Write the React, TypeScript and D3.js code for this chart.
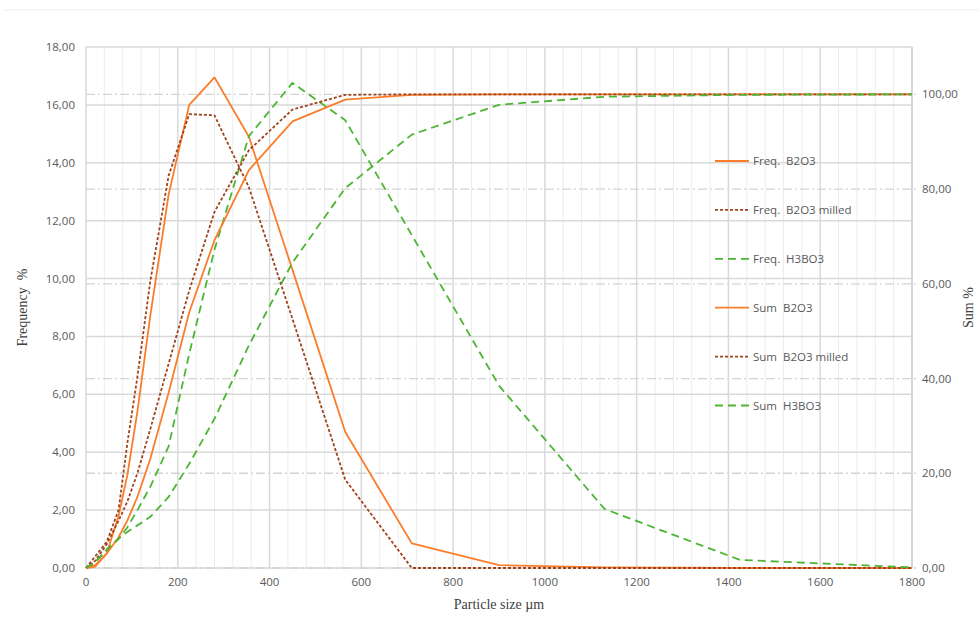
import React from "react";
import * as d3 from "d3";

// particle sizes (µm) of the measured fractions
const sizes = [0, 20, 45, 71, 90, 112, 140, 180, 225, 280, 355, 450, 565, 710, 900, 1130, 1425, 1800];

// frequency, %
const freqB2O3 = [0, 0.05, 0.5, 1.8, 3.2, 5.4, 8.7, 12.9, 16.0, 16.95, 14.9, 10.3, 4.7, 0.85, 0.1, 0.02, 0, 0];
const freqB2O3Milled = [0, 0.4, 0.9, 2.0, 4.3, 6.6, 9.9, 13.55, 15.68, 15.64, 13.15, 8.6, 3.05, 0, 0, 0, 0, 0];
const freqH3BO3 = [0, 0.2, 0.6, 1.0, 1.4, 2.0, 2.8, 4.2, 7.4, 11.0, 14.92, 16.76, 15.47, 11.5, 6.3, 2.04, 0.28, 0.02];

// cumulative sum, %
const sumB2O3 = [0, 0.6, 3.0, 6.5, 10, 15, 23, 37, 54, 69.2, 84.0, 94.3, 98.9, 99.9, 100, 100, 100, 100];
const sumB2O3Milled = [0, 1.5, 5, 10, 14, 20, 29.3, 43.1, 58.6, 75.2, 88.2, 96.8, 99.9, 100, 100, 100, 100, 100];
const sumH3BO3 = [0, 1.2, 3.9, 6.2, 7.6, 9.0, 10.8, 15, 22, 31.5, 47, 64.5, 80.2, 91.5, 97.8, 99.5, 99.9, 100];

const xTicks = [0, 200, 400, 600, 800, 1000, 1200, 1400, 1600, 1800];
const leftTicks = [0, 2, 4, 6, 8, 10, 12, 14, 16, 18];
const rightTicks = [0, 20, 40, 60, 80, 100];

const ORANGE = "#fa7d2c";
const BROWN = "#a0431d";
const GREEN = "#4db534";

const W = 979, H = 642;
const margin = { left: 86, right: 67, top: 47, bottom: 74 };

export default function App() {
  const x = d3.scaleLinear().domain([0, 1800]).range([margin.left, W - margin.right]);
  const yL = d3.scaleLinear().domain([0, 18]).range([H - margin.bottom, margin.top]);
  const yR = d3.scaleLinear().domain([0, 110]).range([H - margin.bottom, margin.top]);

  const series = [
    { name: "Freq.  B2O3", vals: freqB2O3, y: yL, color: ORANGE, dash: "", w: 1.8 },
    { name: "Freq.  B2O3 milled", vals: freqB2O3Milled, y: yL, color: BROWN, dash: "3,2", w: 1.8 },
    { name: "Freq.  H3BO3", vals: freqH3BO3, y: yL, color: GREEN, dash: "8,5", w: 1.8 },
    { name: "Sum  B2O3", vals: sumB2O3, y: yR, color: ORANGE, dash: "", w: 1.8 },
    { name: "Sum  B2O3 milled", vals: sumB2O3Milled, y: yR, color: BROWN, dash: "3,2", w: 1.8 },
    { name: "Sum  H3BO3", vals: sumH3BO3, y: yR, color: GREEN, dash: "8,5", w: 1.8 },
  ];

  const minor = d3.range(0, 1801, 40);
  const fmt = (v: number) => v.toFixed(2).replace(".", ",");
  const x0 = x(0), x1 = x(1800), yb = yL(0), yt = yL(18);
  const tickFont = "'Open Sans', sans-serif";
  const serif = "'Liberation Serif', serif";

  return (
    <svg width={W} height={H} style={{ position: "absolute", left: 0, top: 0, background: "#fff" }}>
      <line x1={4} x2={W} y1={10} y2={10} stroke="#f3f3f3" strokeWidth={1.5} />

      {/* vertical grid */}
      {minor.map((v) => (
        <line key={"v" + v} x1={x(v)} x2={x(v)} y1={yt} y2={yb}
          stroke={v % 200 === 0 ? "#d9d9d9" : "#ececec"} strokeWidth={v % 200 === 0 ? 1.5 : 1} />
      ))}
      {/* left axis grid */}
      {leftTicks.map((t) => (
        <line key={"h" + t} x1={x0} x2={x1} y1={yL(t)} y2={yL(t)} stroke="#d9d9d9" strokeWidth={1.5} />
      ))}
      {/* right axis grid, dash-dot */}
      {rightTicks.map((t) => (
        <line key={"r" + t} x1={x0} x2={x1 + 5} y1={yR(t)} y2={yR(t)} stroke="#d4d4d4" strokeWidth={1.3}
          strokeDasharray="9,3,2,3" />
      ))}
      <line x1={x1} x2={x1} y1={yt} y2={yb} stroke="#d0d0d0" strokeWidth={1.5} />

      {/* series */}
      {series.map((s) => {
        const line = d3.line<number>().x((_, i) => x(sizes[i])).y((v) => s.y(v));
        return (
          <path key={s.name} d={line(s.vals) || ""} fill="none" stroke={s.color} strokeWidth={s.w}
            strokeDasharray={s.dash || undefined} strokeLinejoin="round" />
        );
      })}

      {/* tick labels */}
      {leftTicks.map((t) => (
        <text key={"lt" + t} x={75} y={yL(t)} dy="0.35em" textAnchor="end" fontSize={11.5}
          fontFamily={tickFont} fill="#595959">{fmt(t)}</text>
      ))}
      {rightTicks.map((t) => (
        <text key={"rt" + t} x={922} y={yR(t)} dy="0.35em" textAnchor="start" fontSize={11.5}
          fontFamily={tickFont} fill="#595959">{fmt(t)}</text>
      ))}
      {xTicks.map((t) => (
        <text key={"xt" + t} x={x(t)} y={586} textAnchor="middle" fontSize={11.5}
          fontFamily={tickFont} fill="#595959">{t}</text>
      ))}

      {/* axis titles */}
      <text transform={`translate(27,${(yt + yb) / 2}) rotate(-90)`} textAnchor="middle" fontSize={14}
        fontFamily={serif} fill="#404040" style={{ whiteSpace: "pre" }}>{"Frequency  %"}</text>
      <text transform={`translate(973,${(yt + yb) / 2}) rotate(-90)`} textAnchor="middle" fontSize={14}
        fontFamily={serif} fill="#404040">Sum %</text>
      <text x={(x0 + x1) / 2} y={609} textAnchor="middle" fontSize={14} fontFamily={serif}
        fill="#404040">Particle size µm</text>

      {/* legend */}
      {series.map((s, i) => {
        const ly = 161 + i * 48.9;
        return (
          <g key={"lg" + s.name}>
            <line x1={715} x2={749} y1={ly} y2={ly} stroke={s.color} strokeWidth={s.w}
              strokeDasharray={s.dash || undefined} />
            <text x={753} y={ly} dy="0.35em" fontSize={11.5} fontFamily={tickFont} fill="#595959"
              style={{ whiteSpace: "pre" }}>{s.name}</text>
          </g>
        );
      })}
    </svg>
  );
}
